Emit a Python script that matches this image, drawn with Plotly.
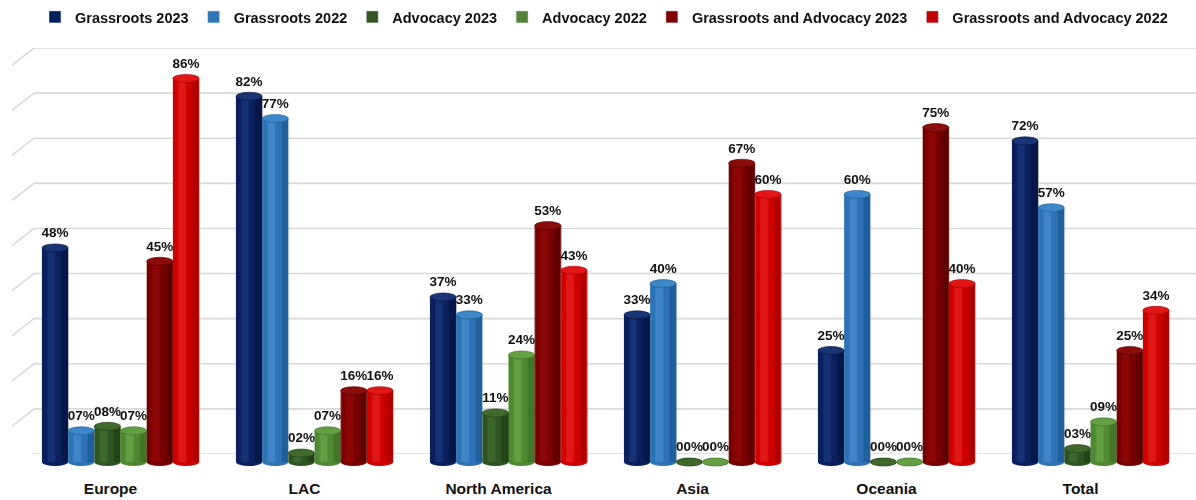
import plotly.graph_objects as go

# Regions and survey series
regions = ["Europe", "LAC", "North America", "Asia", "Oceania", "Total"]
series_names = [
    "Grassroots 2023",
    "Grassroots 2022",
    "Advocacy 2023",
    "Advocacy 2022",
    "Grassroots and Advocacy 2023",
    "Grassroots and Advocacy 2022",
]
grassroots_2023 = [48, 82, 37, 33, 25, 72]
grassroots_2022 = [7, 77, 33, 40, 60, 57]
advocacy_2023 = [8, 2, 11, 0, 0, 3]
advocacy_2022 = [7, 7, 24, 0, 0, 9]
both_2023 = [45, 16, 53, 67, 75, 25]
both_2022 = [86, 16, 43, 60, 40, 34]
grid_values = [0, 10, 20, 30, 40, 50, 60, 70, 80, 90]

values = [grassroots_2023, grassroots_2022, advocacy_2023,
          advocacy_2022, both_2023, both_2022]

# body, highlight, shadow, cap, legend colours per series
palette = [
    ("#0a1f5c", "#1c3880", "#05133d", "#1a3575", "#002060"),
    ("#2d72b4", "#4a90cf", "#1d5690", "#3d88c9", "#2e75b6"),
    ("#2f5321", "#467033", "#1f3a15", "#41692c", "#375623"),
    ("#4f8a32", "#6aa64a", "#3a6a22", "#63a043", "#548235"),
    ("#780000", "#960a0a", "#520000", "#8c0c0c", "#800000"),
    ("#cf0000", "#e52222", "#a00000", "#e21616", "#c00000"),
]

FONT = "Arial, Liberation Sans, sans-serif"
GRID = "#d9d9d9"
group_width = 0.81
bar_w = group_width / len(values)
cap_h = 1.8            # height of the elliptical cylinder ends, in % units
x_idx = list(range(len(regions)))

fig = go.Figure()

# subplot 1 (x, y): back wall scale and region labels
fig.add_trace(go.Scatter(x=[0], y=[0], xaxis="x", yaxis="y",
                         mode="markers", marker=dict(opacity=0),
                         showlegend=False, hoverinfo="skip"))

shapes = []
# back wall grid lines and left side-wall perspective lines
for g in grid_values:
    shapes.append(dict(type="line", xref="paper", yref="y", layer="below",
                       x0=34 / 1196, x1=1.0, y0=g, y1=g,
                       line=dict(color=GRID, width=1.6)))
    shapes.append(dict(type="line", xref="paper", yref="y", layer="below",
                       x0=12 / 1196, x1=34 / 1196, y0=g - 3.8, y1=g,
                       line=dict(color=GRID, width=1.6)))

# subplot 2 (x2, y2): the cylinders
for i, (name, vals) in enumerate(zip(series_names, values)):
    body, light, dark, cap, legend_col = palette[i]
    off = -group_width / 2 + i * bar_w
    centers = [k + off + bar_w / 2 for k in x_idx]

    # cylinder body
    fig.add_trace(go.Bar(
        x=x_idx, y=vals, offset=off, width=bar_w, xaxis="x2", yaxis="y2",
        marker=dict(color=body, line=dict(width=0)),
        showlegend=False, hoverinfo="skip",
    ))
    # right-side shadow strip
    fig.add_trace(go.Bar(
        x=x_idx, y=vals, offset=off + bar_w * 0.74, width=bar_w * 0.26,
        xaxis="x2", yaxis="y2",
        marker=dict(color=dark, line=dict(width=0)), opacity=0.65,
        showlegend=False, hoverinfo="skip",
    ))
    # left highlight strip
    fig.add_trace(go.Bar(
        x=x_idx, y=vals, offset=off + bar_w * 0.2, width=bar_w * 0.3,
        xaxis="x2", yaxis="y2",
        marker=dict(color=light, line=dict(width=0)), opacity=0.7,
        showlegend=False, hoverinfo="skip",
    ))
    # value labels above the cylinder tops
    fig.add_trace(go.Scatter(
        x=centers, y=vals, xaxis="x2", yaxis="y2",
        mode="markers+text", marker=dict(size=10, opacity=0),
        text=[f"{v:02d}%" for v in vals], textposition="top center",
        textfont=dict(family=FONT, size=13.5, color="#111111", weight="bold"),
        cliponaxis=False, showlegend=False, hoverinfo="skip",
    ))
    # legend entry
    fig.add_trace(go.Bar(
        x=[None], y=[None], name=name, xaxis="x2", yaxis="y2",
        marker=dict(color=legend_col), showlegend=True,
    ))

    # elliptical bottom and top of each cylinder
    for c, v in zip(centers, vals):
        shapes.append(dict(type="circle", xref="x2", yref="y2", layer="between",
                           x0=c - bar_w / 2, x1=c + bar_w / 2,
                           y0=-cap_h / 2, y1=cap_h / 2,
                           fillcolor=body, line=dict(width=0)))
        shapes.append(dict(type="circle", xref="x2", yref="y2", layer="above",
                           x0=c - bar_w / 2, x1=c + bar_w / 2,
                           y0=v - cap_h / 2, y1=v + cap_h / 2,
                           fillcolor=cap, line=dict(color=dark, width=0.6)))

fig.update_layout(
    width=1196, height=500,
    paper_bgcolor="white", plot_bgcolor="rgba(0,0,0,0)",
    margin=dict(l=0, r=0, t=0, b=0),
    barmode="overlay",
    font=dict(family=FONT, color="#111111"),
    showlegend=True,
    legend=dict(orientation="h", x=0.505, xanchor="center", y=0.966,
                yanchor="middle", itemwidth=30, traceorder="normal",
                font=dict(family=FONT, size=14.5, color="#111111",
                          weight="bold"),
                bgcolor="rgba(0,0,0,0)"),
    xaxis=dict(domain=[13.5 / 1196, 1177.5 / 1196], anchor="y",
               range=[-0.5, 5.5], tickvals=x_idx, ticktext=regions,
               showgrid=False, zeroline=False, showline=False, ticks="",
               tickfont=dict(family=FONT, size=15.5, color="#111111",
                             weight="bold"),
               ticklabelstandoff=23),
    yaxis=dict(domain=[46 / 500, 452 / 500], anchor="x", range=[0, 90],
               showgrid=False, zeroline=False, showticklabels=False,
               showline=False),
    xaxis2=dict(domain=[23.5 / 1196, 1187.5 / 1196], anchor="y2",
                range=[-0.5, 5.5], visible=False),
    yaxis2=dict(domain=[31.3 / 500, 484 / 500], anchor="x2",
                range=[-1.5, 100], visible=False),
    shapes=shapes,
)

fig.write_html("out.html")
